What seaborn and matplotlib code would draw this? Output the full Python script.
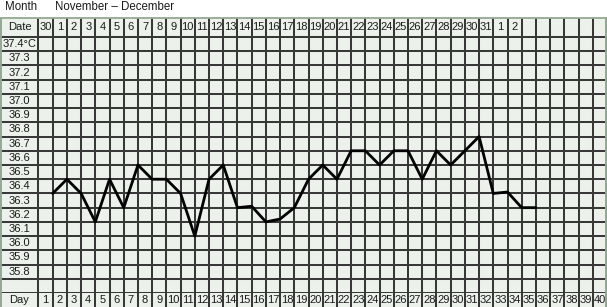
import matplotlib
matplotlib.use("Agg")
import matplotlib.pyplot as plt
import seaborn as sns
import numpy as np
import pandas as pd

# ---- data ----
days = list(range(1, 36))
temps = [36.35, 36.45, 36.35, 36.15, 36.45, 36.25, 36.55, 36.45, 36.45, 36.35,
         36.05, 36.45, 36.55, 36.25, 36.26, 36.15, 36.17, 36.25, 36.45, 36.55,
         36.45, 36.65, 36.65, 36.55, 36.65, 36.65, 36.45, 36.65, 36.55, 36.65,
         36.75, 36.35, 36.36, 36.25, 36.25]
date_labels = ["30"] + [str(d) for d in range(1, 32)] + ["1", "2"]
day_labels = [str(d) for d in range(1, 41)]
temp_labels = ["37.4°C", "37.3", "37.2", "37.1", "37.0", "36.9", "36.8", "36.7",
               "36.6", "36.5", "36.4", "36.3", "36.2", "36.1", "36.0", "35.9", "35.8"]
temp_values = [37.4 - 0.1 * i for i in range(17)]
title_month = "Month"
title_range = "November – December"

sns.set_style("white")
plt.rcParams["font.family"] = ["Liberation Sans", "DejaVu Sans"]

W, H = 607, 307
fig = plt.figure(figsize=(W / 100, H / 100), dpi=100)
fig.patch.set_facecolor("white")

ncol = 40
colw = 569 / ncol
lab_w = 38 / colw
xmin = -lab_w

fill = "#ecf1ec"
gridc = "#383838"
border = "#93a893"
txtc = "#1a1a1a"
fs = 8
glw = 1.45

def px_axes(y_top, y_bot):
    return fig.add_axes([0.5 / W, (H - y_bot) / H, (W - 0.5) / W, (y_bot - y_top) / H])

ax_top = px_axes(18, 37)
ax = px_axes(37, 293)
ax_bot = px_axes(293, 307)

for a in (ax_top, ax, ax_bot):
    a.set_facecolor(fill)
    a.set_xlim(xmin, ncol)
    a.set_xticks([])
    a.set_yticks([])
    for s in a.spines.values():
        s.set_visible(False)
    a.vlines(range(0, ncol + 1), 0, 1, transform=a.get_xaxis_transform(),
             color=gridc, lw=glw, clip_on=False, zorder=1)

# main grid
ax.set_ylim(35.65, 37.45)
hl = [35.65 + 0.1 * k for k in range(19)]
ax.hlines(hl, xmin, ncol, color=gridc, lw=glw, clip_on=False, zorder=1)

df = pd.DataFrame({"day": days, "temp": temps})
sns.lineplot(data=df, x="day", y="temp", ax=ax, color="black", lw=2.0,
             zorder=3, clip_on=False)
ax.set_xlabel("")
ax.set_ylabel("")

for lab, v in zip(temp_labels, temp_values):
    ax.text(xmin / 2, v, lab, ha="center", va="center", fontsize=fs, color=txtc)

# date row
ax_top.set_ylim(0, 1)
ax_top.text(xmin / 2, 0.5, "Date", ha="center", va="center", fontsize=fs, color=txtc)
for i, lab in enumerate(date_labels):
    ax_top.text(i + 0.5, 0.5, lab, ha="center", va="center", fontsize=fs, color=txtc)

# day row
ax_bot.set_ylim(0, 1)
ax_bot.text(xmin / 2, 0.5, "Day", ha="center", va="center", fontsize=fs, color=txtc)
for i, lab in enumerate(day_labels):
    ax_bot.text(i + 0.5, 0.5, lab, ha="center", va="center", fontsize=fs, color=txtc)

# outer border
fig.add_artist(plt.Line2D([0.5 / W, 1], [(H - 18) / H] * 2, color=border, lw=1.3))
fig.add_artist(plt.Line2D([0.7 / W] * 2, [0, (H - 18) / H], color=border, lw=1.4))
fig.add_artist(plt.Line2D([1 - 0.7 / W] * 2, [0, (H - 18) / H], color=border, lw=1.4))

fig.text(5 / W, (H - 7) / H, title_month, ha="left", va="center", fontsize=8.3, color=txtc)
fig.text(55 / W, (H - 7) / H, title_range, ha="left", va="center", fontsize=8.3, color=txtc)

fig.savefig("out.png", dpi=100)
